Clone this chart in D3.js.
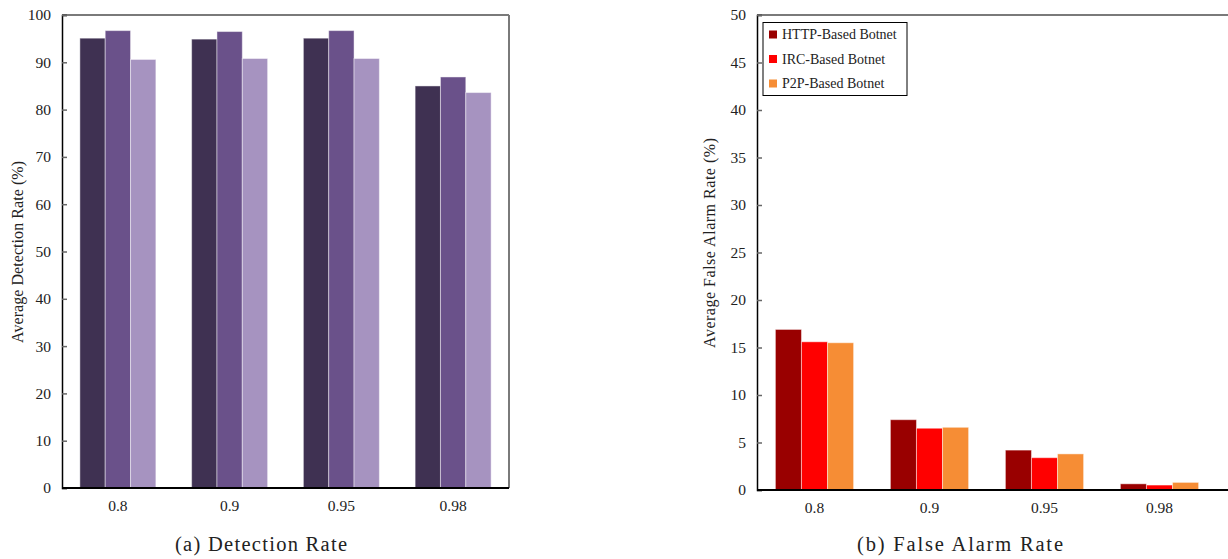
<!DOCTYPE html>
<html><head><meta charset="utf-8">
<script src="https://cdn.jsdelivr.net/npm/d3@7"></script>
<style>body{margin:0;background:#fff;} svg{display:block;}</style>
</head><body>
<svg id="c" width="1228" height="559"></svg>
<script>
const categories = ["0.8", "0.9", "0.95", "0.98"];
const seriesNames = ["HTTP-Based Botnet", "IRC-Based Botnet", "P2P-Based Botnet"];
const detectionHTTP = [95.1, 94.9, 95.1, 85.0];
const detectionIRC  = [96.7, 96.5, 96.7, 86.9];
const detectionP2P  = [90.6, 90.8, 90.8, 83.6];
const falseHTTP = [16.9, 7.4, 4.2, 0.65];
const falseIRC  = [15.6, 6.5, 3.4, 0.52];
const falseP2P  = [15.5, 6.6, 3.8, 0.8];
const detTicks = [0,10,20,30,40,50,60,70,80,90,100];
const faTicks = [0,5,10,15,20,25,30,35,40,45,50];
const purpleColors = ["#3f3152", "#6a518a", "#a693c0"];
const redColors = ["#990000", "#ff0000", "#f68d35"];

const svg = d3.select("#c");
const FONT = "'Liberation Serif','Times New Roman',serif";

function panel(opts){
  const g = svg.append("g");
  const x = d3.scaleBand().domain(categories).range([opts.x0, opts.x1]).paddingInner(0.32).paddingOuter(0.16);
  const y = d3.scaleLinear().domain([0, opts.max]).range([opts.yb, opts.yt]);
  const xs = d3.scaleBand().domain([0,1,2]).range([0, x.bandwidth()]);
  g.append("line").attr("x1", opts.x0).attr("x2", opts.frameRight).attr("y1", opts.yt).attr("y2", opts.yt)
    .attr("stroke", "#7a7a7a").attr("stroke-width", 2);
  g.append("line").attr("x1", opts.frameRight).attr("x2", opts.frameRight).attr("y1", opts.yt).attr("y2", opts.yb)
    .attr("stroke", "#7a7a7a").attr("stroke-width", 2);
  opts.series.forEach((vals, si) => {
    g.selectAll(null).data(vals).enter().append("rect")
      .attr("x", (d,i) => x(categories[i]) + xs(si))
      .attr("y", d => y(d))
      .attr("width", xs.bandwidth())
      .attr("height", d => y(0) - y(d))
      .attr("fill", opts.colors[si])
      .attr("stroke", "rgba(255,255,255,0.45)")
      .attr("stroke-width", 1);
  });
  const ya = g.append("g").attr("transform", `translate(${opts.x0},0)`)
    .call(d3.axisLeft(y).tickValues(opts.ticks).tickSize(-5).tickPadding(11).tickFormat(d3.format("d")));
  ya.select(".domain").attr("stroke", "#000").attr("stroke-width", 1.5);
  ya.selectAll(".tick line").attr("stroke", "#666").attr("stroke-width", 1.5);
  ya.selectAll("text").attr("font-family", FONT).attr("font-size", 15.5).attr("fill", "#222");
  const xa = g.append("g").attr("transform", `translate(0,${opts.yb})`)
    .call(d3.axisBottom(x).tickSize(0).tickPadding(12));
  xa.select(".domain").attr("d", `M${opts.x0},0H${opts.frameRight}`).attr("stroke", "#000").attr("stroke-width", 2);
  xa.selectAll("text").attr("font-family", FONT).attr("font-size", 15.5).attr("fill", "#222");
  g.append("text").attr("transform", `translate(${opts.ylx},${opts.yly}) rotate(-90)`)
    .attr("text-anchor", "middle").attr("font-family", FONT).attr("font-size", 16).attr("fill", "#222")
    .attr("textLength", opts.ylLen).attr("lengthAdjust", "spacing")
    .text(opts.ylabel);
  g.append("text").attr("x", opts.capX).attr("y", 551).attr("text-anchor", "middle")
    .attr("font-family", FONT).attr("font-size", 20.5).attr("fill", "#222")
    .attr("textLength", opts.capLen).attr("lengthAdjust", "spacing")
    .text(opts.caption);
  return {g, x, y};
}

panel({x0: 62, x1: 509, frameRight: 509, yt: 15, yb: 488, max: 100, ticks: detTicks,
  series: [detectionHTTP, detectionIRC, detectionP2P], colors: purpleColors,
  ylabel: "Average  Detection  Rate  (%)", ylx: 23, yly: 252, ylLen: 182,
  caption: "(a) Detection Rate", capX: 261, capLen: 172});

panel({x0: 757, x1: 1217, frameRight: 1240, yt: 15, yb: 490, max: 50, ticks: faTicks,
  series: [falseHTTP, falseIRC, falseP2P], colors: redColors,
  ylabel: "Average  False  Alarm  Rate  (%)", ylx: 715, yly: 243, ylLen: 210,
  caption: "(b) False Alarm Rate", capX: 960, capLen: 206});

const lg = svg.append("g");
lg.append("rect").attr("x", 763).attr("y", 22.5).attr("width", 144).attr("height", 73)
  .attr("fill", "#fff").attr("stroke", "#000").attr("stroke-width", 1);
seriesNames.forEach((n, i) => {
  const cy = 34.5 + i * 24.5;
  lg.append("rect").attr("x", 769).attr("y", cy - 4).attr("width", 8).attr("height", 8).attr("fill", redColors[i]);
  lg.append("text").attr("x", 782).attr("y", cy + 4.5).attr("font-family", FONT).attr("font-size", 14)
    .attr("fill", "#222").text(n);
});
</script>
</body></html>
